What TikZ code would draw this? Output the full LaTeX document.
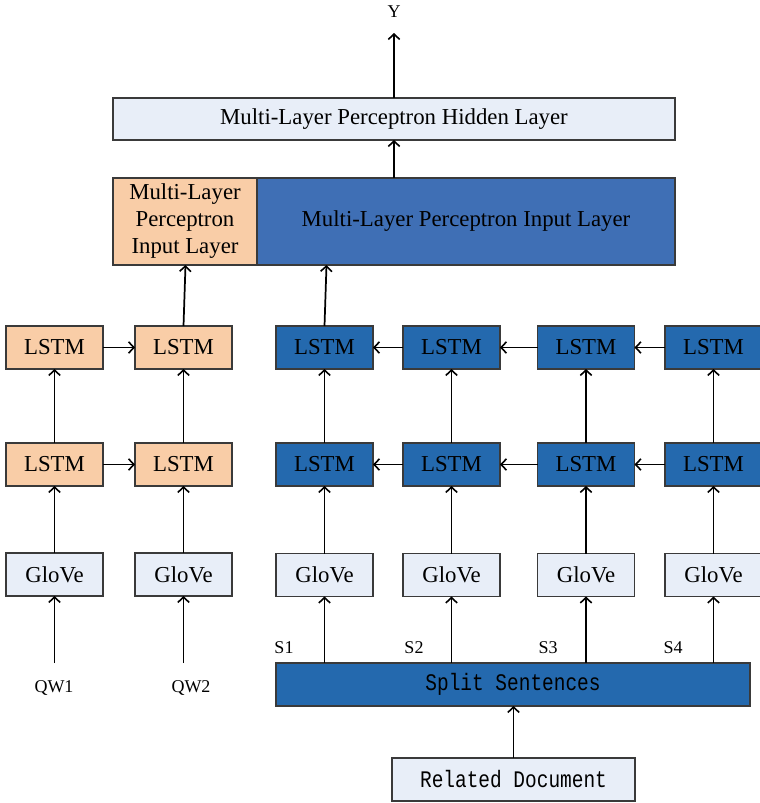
\documentclass[tikz,border=0pt]{standalone}
\usepackage{fontspec}
\setmainfont{Liberation Serif}
\newfontfamily\monof[FakeStretch=0.82]{Liberation Mono}
\usetikzlibrary{arrows.meta}
\definecolor{lightfill}{HTML}{E8EEF8}
\definecolor{orangefill}{HTML}{F9CDA7}
\definecolor{bluefill}{HTML}{2469AE}
\definecolor{inblue}{HTML}{3F6FB5}
\definecolor{edge}{HTML}{3A3A3A}
\tikzset{
  box/.style={draw=edge, line width=0.9pt, inner sep=0pt, outer sep=0pt,
    font=\fontsize{17.1}{20.25}\selectfont, text=black},
  small/.style={minimum width=72.75pt, minimum height=32.25pt},
  lstmO/.style={box, small, fill=orangefill},
  lstmB/.style={box, small, fill=bluefill},
  glove/.style={box, small, fill=lightfill},
  monobox/.style={box, font=\monof\fontsize{17.8}{20}\selectfont},
  lbl/.style={inner sep=0pt, font=\fontsize{13.5}{15}\selectfont},
  arr/.style={line width=1.3pt, -{Straight Barb[length=4pt,width=8.5pt,line width=1.2pt]}},
}
\begin{document}
\begin{tikzpicture}[x=0.75pt, y=-0.75pt]
\useasboundingbox (0,0) rectangle (760,803);
% top layers
\node[lbl] (Y) at (394,12) {Y};
\coordinate (ytip) at (394,33);
\node[box, fill=lightfill, minimum width=421.5pt, minimum height=31.5pt] (hid) at (394,119) {Multi-Layer Perceptron Hidden Layer};
\node[box, fill=orangefill, minimum width=108pt, minimum height=65.25pt, align=center] (inL) at (185,221.5) {Multi-Layer\\Perceptron\\Input Layer};
\node[box, fill=inblue, minimum width=313.5pt, minimum height=65.25pt] (inR) at (466,221.5) {Multi-Layer Perceptron Input Layer};
% left (question) columns
\node[lstmO] (qa2) at (54.5,347.5) {LSTM};
\node[lstmO] (qb2) at (183.5,347.5) {LSTM};
\node[lstmO] (qa1) at (54.5,464.5) {LSTM};
\node[lstmO] (qb1) at (183.5,464.5) {LSTM};
\node[glove] (qag) at (54.5,574.5) {GloVe};
\node[glove] (qbg) at (183.5,574.5) {GloVe};
\node[lbl] (qw1) at (54,688) {QW1};
\node[lbl] (qw2) at (191,688) {QW2};
\coordinate (qw1s) at (54.5,663);
\coordinate (qw2s) at (183.5,663);
% right (document) columns
\node[lstmB] (ra2) at (324.5,347.5) {LSTM};
\node[lstmB] (rb2) at (451.5,347.5) {LSTM};
\node[lstmB] (rc2) at (586,347.5) {LSTM};
\node[lstmB] (rd2) at (713.5,347.5) {LSTM};
\node[lstmB] (ra1) at (324.5,464.5) {LSTM};
\node[lstmB] (rb1) at (451.5,464.5) {LSTM};
\node[lstmB] (rc1) at (586,464.5) {LSTM};
\node[lstmB] (rd1) at (713.5,464.5) {LSTM};
\node[glove] (rag) at (324.5,575) {GloVe};
\node[glove] (rbg) at (451.5,575) {GloVe};
\node[glove] (rcg) at (586,575) {GloVe};
\node[glove] (rdg) at (713.5,575) {GloVe};
\node[lbl] (s1) at (284,648) {S1};
\node[lbl] (s2) at (414,648) {S2};
\node[lbl] (s3) at (548,648) {S3};
\node[lbl] (s4) at (673,648) {S4};
\node[monobox, fill=bluefill, minimum width=355.5pt, minimum height=32.25pt] (split) at (513,684.5) {Split Sentences};
\node[monobox, fill=lightfill, minimum width=182.25pt, minimum height=32.25pt] (rel) at (513.5,779.5) {Related Document};
% connectors
\draw[arr] (hid.north) -- (ytip);
\draw[arr] (inR.north -| hid.south) -- (hid.south);
\draw[arr] (qb2.north) -- ([xshift=1.5pt]qb2.north |- inL.south);
\draw[arr] (ra2.north) -- ([xshift=1.5pt]ra2.north |- inR.south);
\foreach \c in {qa,qb,ra,rb,rc,rd}{
  \draw[arr] (\c g.north) -- (\c 1.south);
  \draw[arr] (\c 1.north) -- (\c 2.south);
}
\draw[arr] (qa1.east) -- (qb1.west);
\draw[arr] (qa2.east) -- (qb2.west);
\foreach \r in {1,2}{
  \draw[arr] (rb\r.west) -- (ra\r.east);
  \draw[arr] (rc\r.west) -- (rb\r.east);
  \draw[arr] (rd\r.west) -- (rc\r.east);
}
\draw[arr] (qw1s) -- (qag.south);
\draw[arr] (qw2s) -- (qbg.south);
\foreach \c in {ra,rb,rc,rd}{
  \draw[arr] (\c g.south |- split.north) -- (\c g.south);
}
\draw[arr] (rel.north) -- (rel.north |- split.south);
\end{tikzpicture}
\end{document}
